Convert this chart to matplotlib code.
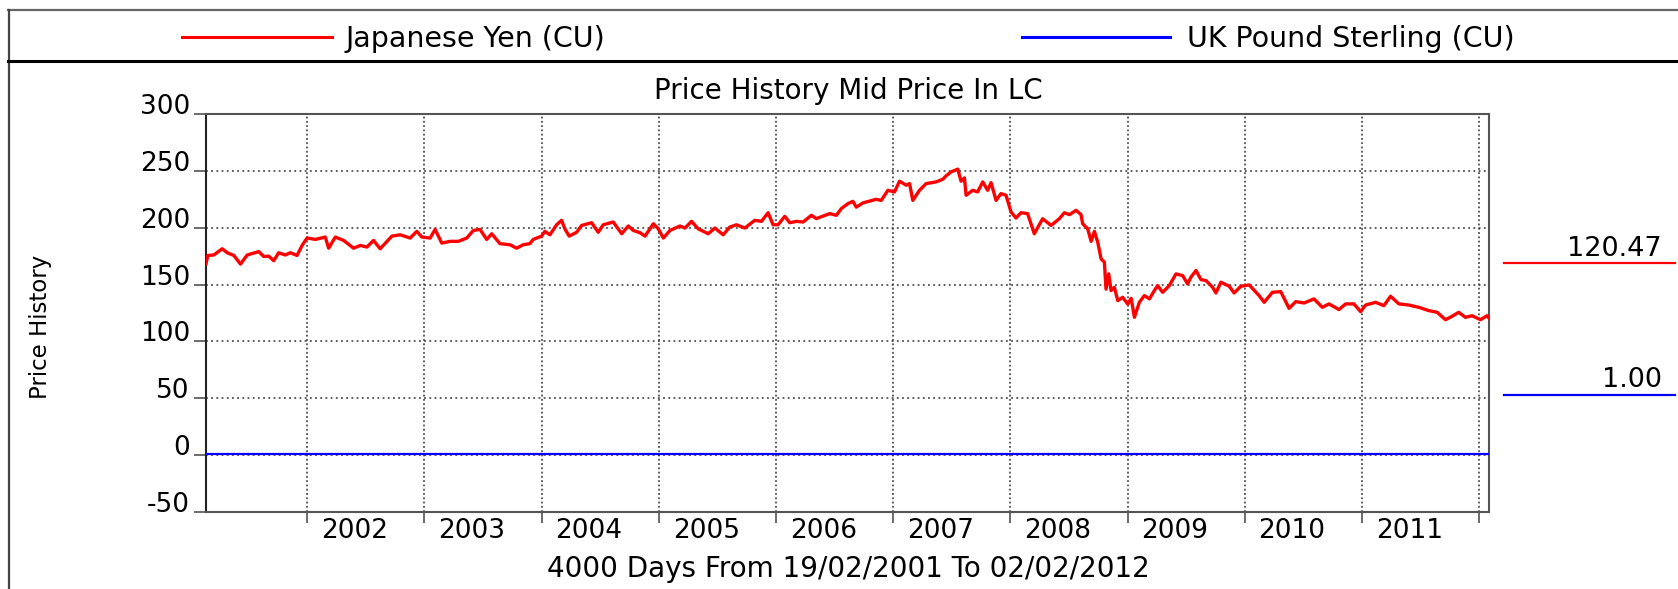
import numpy as np
import pandas as pd
import matplotlib
matplotlib.use("Agg")
import matplotlib.pyplot as plt
from matplotlib.lines import Line2D
import matplotlib.transforms as mtransforms

plt.rcParams['font.family'] = ['DejaVu Sans']

# ---------------- data ----------------
series_names = ["Japanese Yen (CU)", "UK Pound Sterling (CU)"]
series_colors = ["#ff0000", "#0000ff"]
title_text = "Price History Mid Price In LC"
ylabel_text = "Price History"
xlabel_text = "4000 Days From 19/02/2001 To 02/02/2012"
start_date = "2001-02-19"
end_date = "2012-02-02"

# Japanese Yen: dates as decimal years
yen_t = [2001.134, 2001.150, 2001.201, 2001.273, 2001.315, 2001.372, 2001.429, 2001.486,
         2001.585, 2001.627, 2001.670, 2001.713, 2001.755, 2001.812, 2001.855, 2001.912,
         2001.955, 2001.998, 2002.068, 2002.153, 2002.182, 2002.239, 2002.310, 2002.395,
         2002.452, 2002.509, 2002.565, 2002.622, 2002.722, 2002.793, 2002.878, 2002.935,
         2002.978, 2003.049, 2003.091, 2003.148, 2003.219, 2003.290, 2003.361, 2003.418,
         2003.475, 2003.532, 2003.575, 2003.645, 2003.731, 2003.788, 2003.844, 2003.901,
         2003.929, 2004.001, 2004.029, 2004.072, 2004.129, 2004.171, 2004.199, 2004.236,
         2004.299, 2004.342, 2004.427, 2004.483, 2004.526, 2004.611, 2004.683, 2004.739,
         2004.782, 2004.839, 2004.882, 2004.953, 2004.995, 2005.038, 2005.095, 2005.180,
         2005.223, 2005.279, 2005.336, 2005.421, 2005.478, 2005.549, 2005.606, 2005.663,
         2005.734, 2005.819, 2005.876, 2005.933, 2005.975, 2006.018, 2006.075, 2006.118,
         2006.175, 2006.231, 2006.303, 2006.345, 2006.459, 2006.516, 2006.558, 2006.615,
         2006.657, 2006.686, 2006.743, 2006.856, 2006.899, 2006.956, 2007.013, 2007.055,
         2007.112, 2007.141, 2007.169, 2007.226, 2007.283, 2007.368, 2007.425, 2007.453,
         2007.496, 2007.553, 2007.581, 2007.610, 2007.624, 2007.680, 2007.723, 2007.766,
         2007.808, 2007.837, 2007.880, 2007.922, 2007.965, 2008.008, 2008.050, 2008.093,
         2008.149, 2008.206, 2008.277, 2008.349, 2008.419, 2008.462, 2008.505, 2008.562,
         2008.604, 2008.618, 2008.661, 2008.690, 2008.718, 2008.746, 2008.775, 2008.803,
         2008.817, 2008.840, 2008.860, 2008.888, 2008.917, 2008.959, 2009.002, 2009.031,
         2009.059, 2009.101, 2009.144, 2009.187, 2009.229, 2009.258, 2009.300, 2009.357,
         2009.414, 2009.471, 2009.513, 2009.542, 2009.585, 2009.627, 2009.670, 2009.727,
         2009.755, 2009.798, 2009.869, 2009.911, 2009.968, 2010.039, 2010.124, 2010.167,
         2010.238, 2010.309, 2010.380, 2010.437, 2010.508, 2010.593, 2010.664, 2010.721,
         2010.806, 2010.863, 2010.934, 2010.991, 2011.034, 2011.119, 2011.190, 2011.247,
         2011.318, 2011.403, 2011.488, 2011.574, 2011.645, 2011.716, 2011.772, 2011.829,
         2011.886, 2011.943, 2012.015, 2012.071, 2012.088]
yen_v = [168.2, 175.6, 176.0, 181.5, 178.0, 175.6, 168.0, 176.0,
         179.0, 174.7, 175.0, 171.0, 178.0, 176.0, 178.0, 175.6,
         184.4, 191.0, 189.7, 191.8, 182.0, 191.8, 188.8, 182.0,
         184.4, 183.0, 188.8, 181.5, 192.6, 193.8, 190.9, 196.8,
         191.8, 190.9, 198.5, 186.5, 188.0, 188.0, 190.9, 197.6,
         198.5, 189.7, 194.7, 186.0, 185.0, 182.0, 185.0, 186.0,
         189.7, 192.6, 196.8, 193.8, 202.6, 206.5, 199.0, 192.6,
         196.0, 202.0, 204.4, 196.0, 202.6, 205.0, 194.7, 201.5,
         197.6, 195.6, 192.6, 203.5, 199.0, 190.9, 197.6, 201.5,
         199.7, 205.6, 199.0, 194.7, 199.7, 193.8, 200.6, 202.6,
         199.7, 206.5, 205.6, 213.2, 202.6, 202.6, 210.0, 204.4,
         205.6, 205.0, 210.9, 208.0, 212.4, 210.9, 216.8, 221.2,
         223.2, 218.1, 221.8, 225.0, 224.0, 232.9, 231.5, 240.9,
         237.4, 238.8, 224.0, 232.9, 238.8, 240.3, 242.6, 245.6,
         249.1, 251.5, 240.9, 243.8, 228.5, 232.9, 231.5, 240.3,
         232.9, 239.7, 224.0, 230.0, 228.5, 213.8, 208.5, 213.2,
         212.4, 194.7, 207.9, 202.0, 207.9, 213.2, 211.5, 215.3,
         211.5, 203.5, 199.0, 188.0, 196.8, 187.4, 172.6, 169.7,
         146.0, 159.4, 144.7, 147.6, 135.9, 138.8, 132.9, 137.9,
         121.2, 134.4, 140.3, 137.4, 144.7, 149.1, 143.2, 149.1,
         159.4, 157.9, 150.6, 156.5, 162.4, 154.4, 153.5, 147.6,
         142.6, 152.1, 148.5, 142.6, 148.5, 149.7, 140.3, 134.4,
         143.2, 143.8, 129.1, 135.0, 133.8, 137.4, 130.0, 133.0,
         128.0, 133.0, 133.0, 126.2, 132.0, 134.4, 131.5, 139.7,
         133.0, 132.0, 130.0, 127.1, 125.6, 119.1, 122.1, 125.6,
         121.2, 122.6, 119.1, 122.6, 120.47]

# UK Pound Sterling: constant 1.00
gbp_t = [2001.134, 2012.088]
gbp_v = [1.00, 1.00]

y_ticks = [-50, 0, 50, 100, 150, 200, 250, 300]
grid_y = [0, 50, 100, 150, 200, 250]
year_ticks = list(range(2002, 2013))
year_labels = [str(y) for y in range(2002, 2012)]


def dec_to_date(y):
    yi = int(np.floor(y))
    s = pd.Timestamp(year=yi, month=1, day=1)
    e = pd.Timestamp(year=yi + 1, month=1, day=1)
    return s + (e - s) * (y - yi)


yen_d = [dec_to_date(t) for t in yen_t]
gbp_d = [dec_to_date(t) for t in gbp_t]

# ---------------- figure ----------------
W, H = 1678, 589
fig = plt.figure(figsize=(W / 100, H / 100), dpi=100)
fig.patch.set_facecolor("white")
ax = fig.add_axes([206 / W, 1 - 512 / H, (1489 - 206) / W, (512 - 114) / H])

ax.set_xlim(pd.Timestamp(start_date), pd.Timestamp(end_date))
ax.set_ylim(-50, 300)

# grid
for gy in grid_y:
    ax.axhline(gy, color="#333333", lw=1.1, ls=(0, (1.2, 2.2)), zorder=1)
for yr in year_ticks:
    ax.axvline(pd.Timestamp(year=yr, month=1, day=1), color="#333333", lw=1.1,
               ls=(0, (1.2, 1.6)), zorder=1)

ax.plot(yen_d, yen_v, color=series_colors[0], lw=2.4, zorder=3)
ax.plot(gbp_d, gbp_v, color=series_colors[1], lw=1.6, zorder=3)

# spines
for side in ["top", "right", "bottom"]:
    ax.spines[side].set_color("#555555")
    ax.spines[side].set_linewidth(1.5)
ax.spines["left"].set_color("#222222")
ax.spines["left"].set_linewidth(1.5)

# y ticks
ax.set_yticks(y_ticks)
ax.set_yticklabels([str(v) for v in y_ticks])
ax.tick_params(axis="y", direction="out", length=8.6, width=1.1, color="#444444",
               pad=3, labelsize=19)
for lab in ax.get_yticklabels():
    lab.set_verticalalignment("baseline")

# x ticks at year boundaries, labels placed after each tick
ax.set_xticks([pd.Timestamp(year=yr, month=1, day=1) for yr in year_ticks])
ax.set_xticklabels([""] * len(year_ticks))
ax.tick_params(axis="x", direction="out", length=8, width=1.1, color="#444444")
lab_tr = mtransforms.blended_transform_factory(ax.transData, ax.transAxes) + \
    mtransforms.ScaledTranslation(14 / 100, -26 / 100, fig.dpi_scale_trans)
for lbl in year_labels:
    ax.text(pd.Timestamp(year=int(lbl), month=1, day=1), 0, lbl, transform=lab_tr,
            ha="left", va="baseline", fontsize=19, color="black")

# titles / labels
fig.text(848 / W, 1 - 99 / H, title_text, ha="center", va="baseline", fontsize=20)
fig.text(848 / W, 1 - 577 / H, xlabel_text, ha="center", va="baseline", fontsize=20)
fig.text(40 / W, 1 - 327 / H, ylabel_text, rotation=90, ha="center", va="center",
         fontsize=16.5)

# outer frame
fig.add_artist(Line2D([8 / W, 1], [1 - 10 / H, 1 - 10 / H], transform=fig.transFigure,
                      color="#666666", lw=1.6))
fig.add_artist(Line2D([8.5 / W, 8.5 / W], [1 - 10 / H, 0], transform=fig.transFigure,
                      color="#444444", lw=1.6))
fig.add_artist(Line2D([8 / W, 1], [1 - 61 / H, 1 - 61 / H], transform=fig.transFigure,
                      color="#000000", lw=2.2))

# legend
leg_x = [(182, 332, 345), (1022, 1170, 1187)]
for (x0, x1, xt), name, col in zip(leg_x, series_names, series_colors):
    fig.add_artist(Line2D([x0 / W, x1 / W], [1 - 37 / H, 1 - 37 / H],
                          transform=fig.transFigure, color=col, lw=2.2))
    fig.text(xt / W, 1 - 47 / H, name, ha="left", va="baseline", fontsize=20.5)

# last value markers on the right
last_vals = [yen_v[-1], gbp_v[-1]]
marker_y = [(256, 263), (387, 395)]
for (yt, yl), val, col in zip(marker_y, last_vals, series_colors):
    fig.text(1662 / W, 1 - yt / H, f"{val:.2f}", ha="right", va="baseline", fontsize=19.5)
    fig.add_artist(Line2D([1504 / W, 1675 / W], [1 - yl / H, 1 - yl / H],
                          transform=fig.transFigure, color=col, lw=1.6))

fig.savefig("out.png", dpi=100, facecolor="white")
